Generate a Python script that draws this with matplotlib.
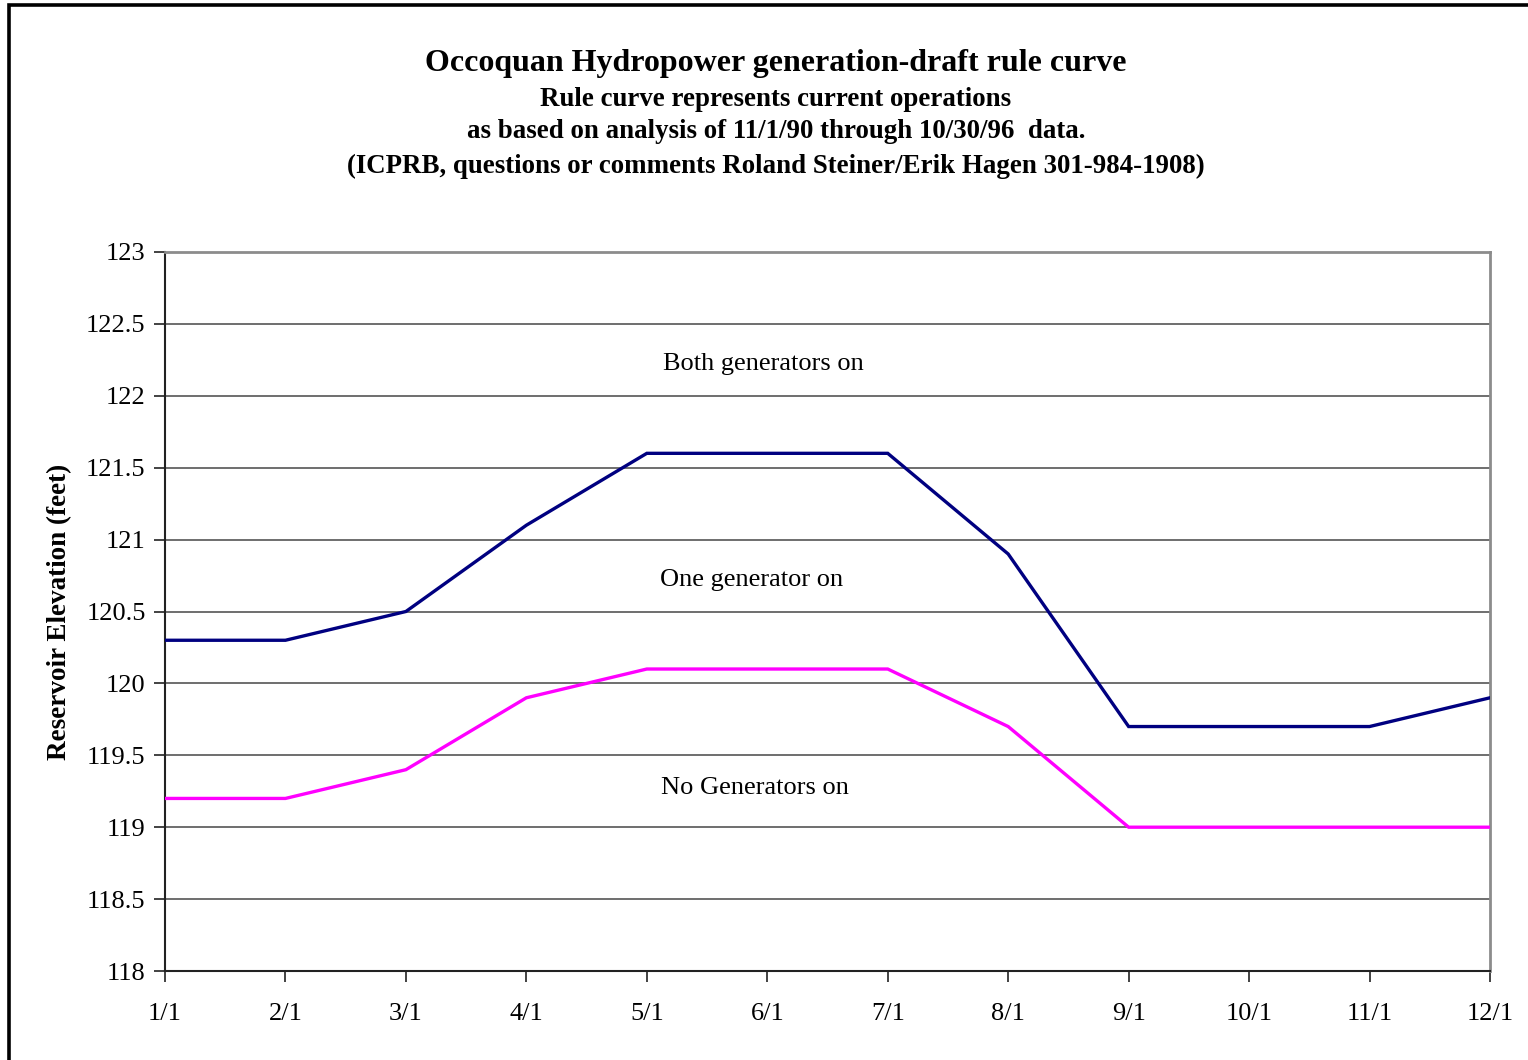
import matplotlib
matplotlib.use("Agg")
import matplotlib.pyplot as plt
from matplotlib.patches import Rectangle

plt.rcParams['font.family'] = ['Liberation Serif', 'DejaVu Serif']

months = ['1/1', '2/1', '3/1', '4/1', '5/1', '6/1', '7/1', '8/1', '9/1', '10/1', '11/1', '12/1']
upper_curve = [120.3, 120.3, 120.5, 121.1, 121.6, 121.6, 121.6, 120.9, 119.7, 119.7, 119.7, 119.9]
lower_curve = [119.2, 119.2, 119.4, 119.9, 120.1, 120.1, 120.1, 119.7, 119.0, 119.0, 119.0, 119.0]
y_ticks = [118, 118.5, 119, 119.5, 120, 120.5, 121, 121.5, 122, 122.5, 123]
y_tick_labels = ['118', '118.5', '119', '119.5', '120', '120.5', '121', '121.5', '122', '122.5', '123']

W, H = 1528, 1060
fig = plt.figure(figsize=(W / 100, H / 100), dpi=100)
fig.patch.set_facecolor('white')

# axes placed in pixel terms
left, right, top, bottom = 165, 1490, 252, 971
ax = fig.add_axes([left / W, 1 - bottom / H, (right - left) / W, (bottom - top) / H])

x = list(range(len(months)))
ax.plot(x, upper_curve, color='#000080', lw=2.4, solid_joinstyle='miter', zorder=3)
ax.plot(x, lower_curve, color='#FF00FF', lw=2.4, solid_joinstyle='miter', zorder=3)

ax.set_xlim(0, len(months) - 1)
ax.set_ylim(118, 123)
ax.set_xticks(x)
ax.set_xticklabels(months, fontsize=19)
ax.set_yticks(y_ticks)
ax.set_yticklabels(y_tick_labels, fontsize=19)
ax.tick_params(axis='both', direction='out', length=8, width=1.2, color='#222222')
ax.tick_params(axis='x', pad=15)
ax.tick_params(axis='y', pad=6)

ax.yaxis.grid(True, color='#555555', lw=1.2)
ax.set_axisbelow(True)

for side in ('left', 'bottom'):
    ax.spines[side].set_color('#222222')
    ax.spines[side].set_linewidth(1.5)
for side in ('top', 'right'):
    ax.spines[side].set_color('#8c8c8c')
    ax.spines[side].set_linewidth(2.0)

ax.set_ylabel('Reservoir Elevation (feet)', fontsize=19.5, fontweight='bold', labelpad=10)

ax.text(4.97, 122.22, 'Both generators on', fontsize=19, ha='center', va='center')
ax.text(4.87, 120.72, 'One generator on', fontsize=19, ha='center', va='center')
ax.text(4.9, 119.27, 'No Generators on', fontsize=19, ha='center', va='center')

cx = 776 / W
fig.text(cx, 1 - 63 / H, 'Occoquan Hydropower generation-draft rule curve',
         fontsize=23, fontweight='bold', ha='center', va='center')
fig.text(cx, 1 - 99 / H, 'Rule curve represents current operations',
         fontsize=19.4, fontweight='bold', ha='center', va='center')
fig.text(cx, 1 - 132 / H, 'as based on analysis of 11/1/90 through 10/30/96  data.',
         fontsize=19.4, fontweight='bold', ha='center', va='center')
fig.text(cx, 1 - 166 / H, '(ICPRB, questions or comments Roland Steiner/Erik Hagen 301-984-1908)',
         fontsize=19.4, fontweight='bold', ha='center', va='center')

# outer frame, running past the right and bottom edges
fig.add_artist(Rectangle((8.5 / W, -0.05), 1.1, 1 - 4.5 / H + 0.05,
                         transform=fig.transFigure, fill=False,
                         edgecolor='black', lw=2.6, clip_on=False))

fig.savefig('out.png', dpi=100)
